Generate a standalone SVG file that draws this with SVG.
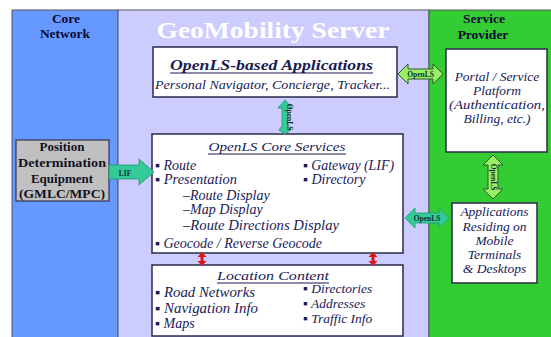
<svg xmlns="http://www.w3.org/2000/svg" width="551" height="337" viewBox="0 0 551 337" font-family="Liberation Serif, Times New Roman, serif">
<style>
.col{stroke:#555566;stroke-width:1}
.box{fill:#ffffff;stroke:#2a2a4a;stroke-width:1.5}
.hd{font-weight:bold;font-size:13.5px;fill:#0a0a30;text-anchor:middle}
.it{font-style:italic;font-size:14px;fill:#1a1a55}
.itr{font-style:italic;font-size:13.5px;fill:#1a1a55}
.itc{font-style:italic;font-size:13.5px;fill:#1a1a55;text-anchor:middle}
.bx{font-weight:bold;font-size:13px;fill:#111122;text-anchor:middle}
.ul{stroke:#1a1a55;stroke-width:1}
.teal{fill:#33cc99;stroke:#1f9a70;stroke-width:0.8}
.lg{fill:#99ee66;stroke:#2d5a2d;stroke-width:1}
.red{fill:#e01515}
.lbl{font-weight:bold;font-size:7.5px;fill:#103030;text-anchor:middle}
</style>
<rect width="551" height="337" fill="#ffffff"/>
<g id="columns">
<rect class="col" x="12" y="10" width="106" height="330" fill="#6699ff"/>
<rect class="col" x="118" y="10" width="311" height="330" fill="#ccccff"/>
<rect class="col" x="429" y="10" width="125" height="330" fill="#33cc33"/>
<text class="hd" x="66" y="23">Core</text>
<text class="hd" x="65" y="38">Network</text>
<text x="273" y="38" font-weight="bold" font-size="23" fill="#ffffff" text-anchor="middle" textLength="233" lengthAdjust="spacingAndGlyphs">GeoMobility Server</text>
<text class="hd" x="484" y="23">Service</text>
<text class="hd" x="483" y="39">Provider</text>
</g>
<g id="apps">
<rect class="box" x="153" y="47" width="244" height="50"/>
<text x="271.5" y="70" font-weight="bold" font-style="italic" font-size="15" fill="#1a1a55" text-anchor="middle" textLength="203" lengthAdjust="spacingAndGlyphs">OpenLS-based Applications</text>
<line class="ul" x1="170" y1="73" x2="373" y2="73"/>
<text class="itc" x="272.5" y="89" textLength="235" lengthAdjust="spacingAndGlyphs">Personal Navigator, Concierge, Tracker...</text>
</g>
<g id="pde">
<rect x="16" y="140" width="93" height="61" fill="#c0c0c0" stroke="#333355" stroke-width="1.2"/>
<text class="bx" x="62" y="151">Position</text>
<text class="bx" x="62" y="167" textLength="88" lengthAdjust="spacingAndGlyphs">Determination</text>
<text class="bx" x="62" y="183">Equipment</text>
<text class="bx" x="62" y="198" textLength="86" lengthAdjust="spacingAndGlyphs">(GMLC/MPC)</text>
</g>
<g id="core">
<rect class="box" x="152" y="134" width="251" height="119"/>
<text class="itc" x="277" y="151" font-size="14" textLength="137" lengthAdjust="spacingAndGlyphs">OpenLS Core Services</text>
<line class="ul" x1="208" y1="154" x2="346" y2="154"/>
<text class="it" x="155" y="170">▪ Route</text>
<text class="it" x="155" y="184" textLength="82" lengthAdjust="spacingAndGlyphs">▪ Presentation</text>
<text class="it" x="183" y="200">–Route Display</text>
<text class="it" x="183" y="214">–Map Display</text>
<text class="it" x="183" y="230" textLength="156" lengthAdjust="spacingAndGlyphs">–Route Directions Display</text>
<text class="it" x="155" y="248" textLength="167" lengthAdjust="spacingAndGlyphs">▪ Geocode / Reverse Geocode</text>
<text class="it" x="303" y="170" textLength="91" lengthAdjust="spacingAndGlyphs">▪ Gateway (LIF)</text>
<text class="it" x="303" y="184">▪ Directory</text>
</g>
<g id="content">
<rect class="box" x="152" y="265" width="251" height="71"/>
<text class="itc" x="273" y="280" font-size="14" textLength="112" lengthAdjust="spacingAndGlyphs">Location Content</text>
<line class="ul" x1="217" y1="283" x2="329" y2="283"/>
<text class="it" x="155" y="297" textLength="100" lengthAdjust="spacingAndGlyphs">▪ Road Networks</text>
<text class="it" x="155" y="313" textLength="103" lengthAdjust="spacingAndGlyphs">▪ Navigation Info</text>
<text class="it" x="155" y="328">▪ Maps</text>
<text class="itr" x="303" y="293">▪ Directories</text>
<text class="itr" x="303" y="308">▪ Addresses</text>
<text class="itr" x="303" y="323">▪ Traffic Info</text>
</g>
<g id="portal">
<rect class="box" x="446" y="49" width="101" height="103"/>
<text class="itc" x="497" y="81">Portal / Service</text>
<text class="itc" x="497" y="95">Platform</text>
<text class="itc" x="497" y="109" textLength="96" lengthAdjust="spacingAndGlyphs">(Authentication,</text>
<text class="itc" x="497" y="123">Billing, etc.)</text>
</g>
<g id="mobile">
<rect class="box" x="452" y="203" width="85" height="80"/>
<text class="itc" x="494.5" y="216" font-size="14">Applications</text>
<text class="itc" x="494.5" y="231" font-size="14">Residing on</text>
<text class="itc" x="494.5" y="245" font-size="14">Mobile</text>
<text class="itc" x="494.5" y="259" font-size="14">Terminals</text>
<text class="itc" x="494.5" y="273" font-size="14">&amp; Desktops</text>
</g>
<g id="connectors">
<path class="teal" d="M109,165 H139 V159 L154,172 L139,185 V179 H109 Z"/>
<text class="lbl" x="125" y="175.5" font-size="10">LIF</text>
<path class="teal" d="M285,100 L292,108 H288 V126 L291,130 L285,134 L279,130 L282,126 V108 H278 Z"/>
<text class="lbl" font-size="5" transform="translate(287,117) rotate(90)">OpenLS</text>
<path class="lg" d="M398,74 L408,64 V69 H433 V64 L443,74 L433,84 V79 H408 V84 Z"/>
<text class="lbl" x="420.5" y="77">OpenLS</text>
<path class="teal" d="M405,218 L415,208 V213 H439 V208 L449,218 L439,228 V223 H415 V228 Z"/>
<text class="lbl" x="427" y="221">OpenLS</text>
<path class="lg" d="M493,155 L503,165 H498 V189 H503 L493,199 L483,189 H488 V165 H483 Z"/>
<text class="lbl" transform="translate(490.5,177) rotate(90)">OpenLS</text>
<path class="red" d="M202,252 L206.5,257 H203.5 V261 H206.5 L202,266 L197.5,261 H200.5 V257 H197.5 Z"/>
<path class="red" d="M373,252 L377.5,257 H374.5 V261 H377.5 L373,266 L368.5,261 H371.5 V257 H368.5 Z"/>
</g>
</svg>
